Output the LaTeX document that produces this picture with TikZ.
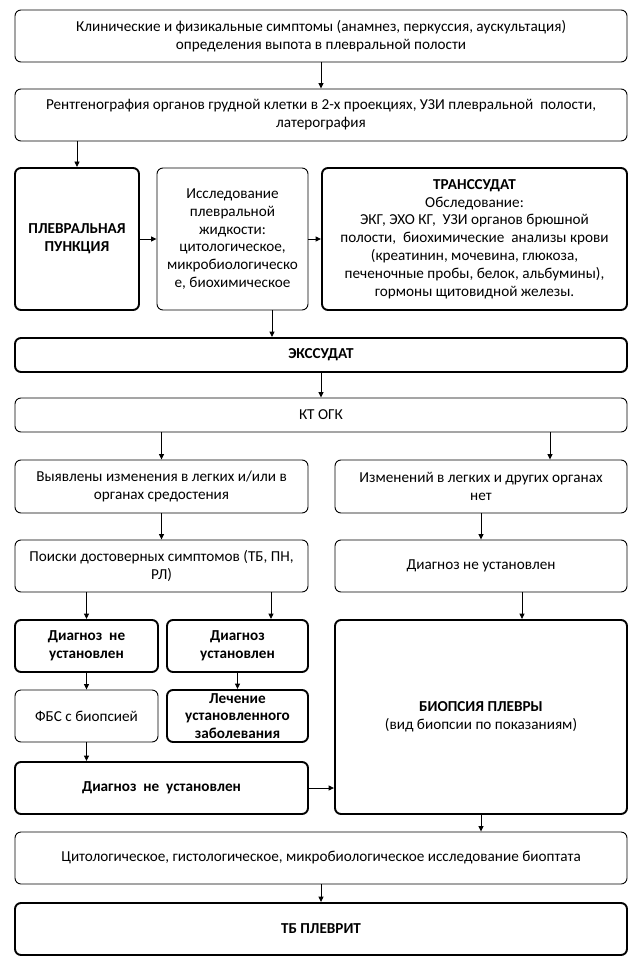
\documentclass[tikz,border=0pt]{standalone}
\usepackage{fontspec}
\setmainfont{Carlito}
\usetikzlibrary{arrows.meta}
\tikzset{
  base/.style={draw=black, rounded corners=6pt, align=center, inner sep=2pt,
    font=\fontsize{15.2}{17.8}\selectfont},
  thinbox/.style={base, line width=0.9pt},
  thickbox/.style={base, line width=1.9pt},
  arr/.style={line width=0.9pt, -{Triangle[length=5.5pt,width=5pt]}},
}
\begin{document}
\begin{tikzpicture}[x=1pt,y=-1pt]
\fill[white] (0,0) rectangle (641,968);
\useasboundingbox (0,0) rectangle (641,968);

\node[thinbox, minimum width=612pt, minimum height=52pt] (b1) at (321,36)
  {Клинические и физикальные симптомы (анамнез, перкуссия, аускультация)\\ определения выпота в плевральной полости};
\node[thinbox, minimum width=612pt, minimum height=52pt] (b2) at (321,115)
  {Рентгенография органов грудной клетки в 2-х проекциях, УЗИ плевральной\ \ полости,\\ латерография};
\node[thickbox, minimum width=124pt, minimum height=142pt] (b3) at (77,239)
  {\bfseries ПЛЕВРАЛЬНАЯ\\ \bfseries ПУНКЦИЯ};
\node[thinbox, minimum width=151pt, minimum height=142pt] (b4) at (232.5,239)
  {Исследование\\ плевральной\\ жидкости:\\ цитологическое,\\ микробиологическо\\ е, биохимическое};
\node[thickbox, minimum width=305pt, minimum height=142pt] (b5) at (474.5,239)
  {\textbf{ТРАНССУДАТ}\\ Обследование:\\ ЭКГ, ЭХО КГ,\ \ УЗИ органов брюшной\\ полости,\ \ биохимические\ \ анализы крови\\ (креатинин, мочевина, глюкоза,\\ печеночные пробы, белок, альбумины),\\ гормоны щитовидной железы.};
\node[thickbox, minimum width=612pt, minimum height=34pt] (exud) at (321,355)
  {\bfseries ЭКССУДАТ};
\node[thinbox, minimum width=612pt, minimum height=34pt] (kt) at (321,415)
  {КТ ОГК};
\node[thinbox, minimum width=293pt, minimum height=53pt] (vyy) at (161.5,486.5)
  {Выявлены изменения в легких и/или в\\ органах средостения};
\node[thinbox, minimum width=292pt, minimum height=53pt] (izm) at (481,486.5)
  {Изменений в легких и других органах\\ нет};
\node[thinbox, minimum width=293pt, minimum height=52pt] (pois) at (161.5,566)
  {Поиски достоверных симптомов (ТБ, ПН,\\ РЛ)};
\node[thinbox, minimum width=292pt, minimum height=52pt] (rdx) at (481,566)
  {Диагноз не установлен};
\node[thickbox, minimum width=143pt, minimum height=52pt] (dxn) at (86.5,646)
  {\bfseries Диагноз\ \ не\\ \bfseries установлен};
\node[thickbox, minimum width=141pt, minimum height=52pt] (dxu) at (237.5,646)
  {\bfseries Диагноз\\ \bfseries установлен};
\node[thickbox, minimum width=292pt, minimum height=194pt] (bio) at (481,717)
  {\textbf{БИОПСИЯ ПЛЕВРЫ}\\ (вид биопсии по показаниям)};
\node[thinbox, minimum width=143pt, minimum height=52pt] (fbs) at (86.5,716)
  {ФБС с биопсией};
\node[thickbox, minimum width=141pt, minimum height=52pt] (lech) at (237.5,716)
  {\bfseries Лечение\\ \bfseries установленного\\ \bfseries заболевания};
\node[thickbox, minimum width=293pt, minimum height=52pt] (wdx) at (161.5,788)
  {\bfseries Диагноз\ \ не\ \ установлен};
\node[thinbox, minimum width=612pt, minimum height=52pt] (cit) at (321,858)
  {Цитологическое, гистологическое, микробиологическое исследование биоптата};
\node[thickbox, minimum width=612pt, minimum height=52pt] (tb) at (321,929)
  {\bfseries ТБ ПЛЕВРИТ};

\coordinate (xa) at (272,0);
\coordinate (xb) at (550,0);
\coordinate (xc) at (522,0);
\coordinate (xd) at (271,0);

\draw[arr] (b1.south) -- (b2.north);
\draw[arr] (b2.south -| b3.north) -- (b3.north);
\draw[arr] (b3.east) -- (b4.west);
\draw[arr] (b4.east) -- (b5.west);
\draw[arr] (b4.south -| xa) -- (exud.north -| xa);
\draw[arr] (exud.south) -- (kt.north);
\draw[arr] (kt.south -| vyy.north) -- (vyy.north);
\draw[arr] (kt.south -| xb) -- (izm.north -| xb);
\draw[arr] (vyy.south) -- (pois.north);
\draw[arr] (izm.south) -- (rdx.north);
\draw[arr] (rdx.south -| xc) -- (bio.north -| xc);
\draw[arr] (pois.south -| dxn.north) -- (dxn.north);
\draw[arr] (pois.south -| xd) -- (dxu.north -| xd);
\draw[arr] (dxn.south) -- (fbs.north);
\draw[arr] (dxu.south) -- (lech.north);
\draw[arr] (fbs.south) -- (wdx.north -| fbs.south);
\draw[arr] (wdx.east) -- (wdx.east -| bio.west);
\draw[arr] (bio.south) -- (cit.north -| bio.south);
\draw[arr] (cit.south) -- (tb.north);
\end{tikzpicture}
\end{document}
